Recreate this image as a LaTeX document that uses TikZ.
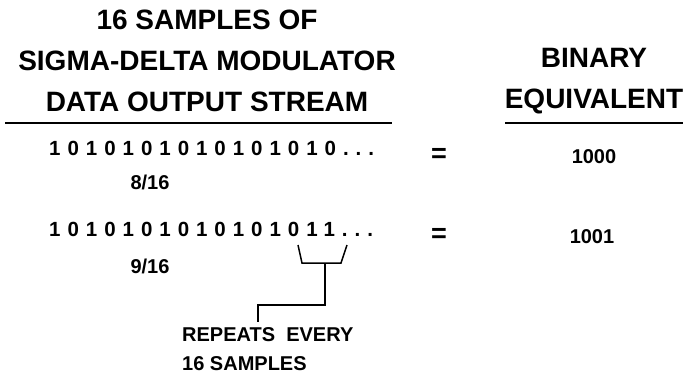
\documentclass[tikz,border=0pt]{standalone}
\usepackage{fontspec}
\setmainfont{Liberation Sans}
\newfontfamily\spcfont[LetterSpace=34]{Liberation Sans}
\begin{document}
\begin{tikzpicture}[x=1pt,y=-1pt,
  title/.style={font=\fontsize{28}{41}\selectfont\bfseries, align=center, inner sep=0pt},
  bits/.style={font=\spcfont\fontsize{20.5}{22}\selectfont\bfseries, inner sep=0pt, anchor=west},
  small/.style={font=\fontsize{20}{24}\selectfont\bfseries, inner sep=0pt},
  eq/.style={font=\fontsize{27}{27}\selectfont\bfseries, inner sep=0pt},
  rule/.style={line width=1.8pt},
  brk/.style={line width=1.5pt}]
\useasboundingbox (0,0) rectangle (686,375);
% headings
\node[title] (h1) at (207,61) {16 SAMPLES OF\\SIGMA-DELTA MODULATOR\\DATA OUTPUT STREAM};
\node[title] (h2) at (594,81) {BINARY\\EQUIVALENT};
\draw[rule] (5,123) -- (392,123);
\draw[rule] (505,123) -- (683,123);
% row 1
\node[bits] (s1) at (49,148) {1010101010101010...};
\node[small] (f1) at (150,182) {8/16};
\node[eq] (e1) at (439,155) {=};
\node[small] (b1) at (594,157) {1000};
% row 2
\node[bits] (s2) at (49,229) {1010101010101011...};
\node[small] (f2) at (150,266) {9/16};
\node[eq] (e2) at (439,235) {=};
\node[small] (b2) at (592,237) {1001};
% bracket
\coordinate (lt) at (298,245);
\coordinate (lb) at (302,263);
\coordinate (rt) at (347,245);
\coordinate (rb) at (341,263);
\coordinate (st) at (325,263);
\coordinate (sm) at (325,305);
\coordinate (sl) at (258,305);
\coordinate (se) at (258,322);
\draw[brk] (lt) -- (lb) -- (rb) -- (rt);
\draw[brk] (st) -- (sm) -- (sl) -- (se);
\node[small, anchor=west, align=left, font=\fontsize{20}{29}\selectfont\bfseries] (rep) at (182,349) {REPEATS\ \ EVERY\\16 SAMPLES};
\end{tikzpicture}
\end{document}
